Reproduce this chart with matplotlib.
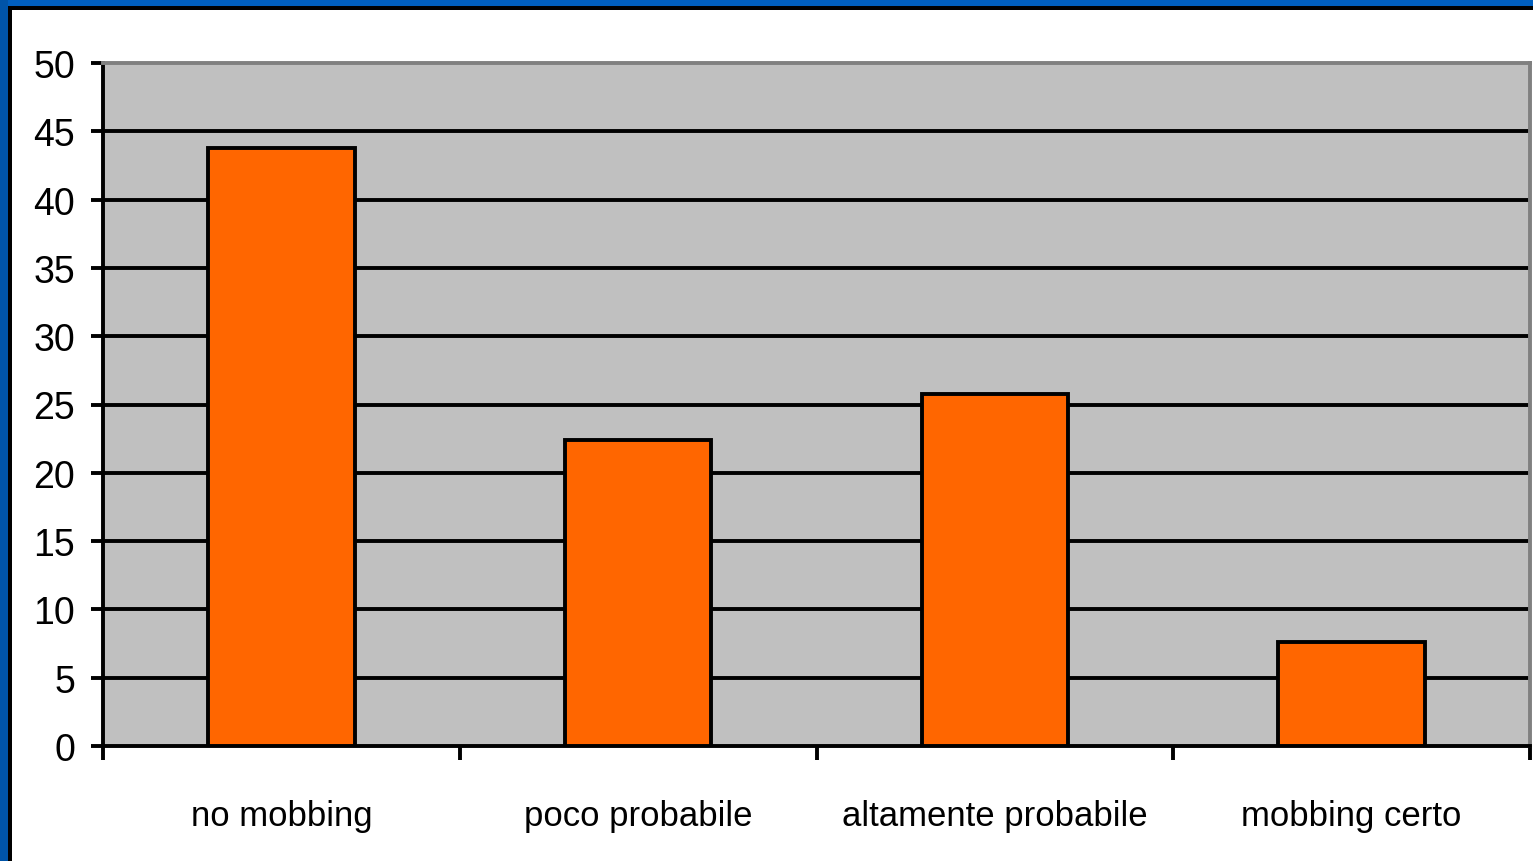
import matplotlib.pyplot as plt
from matplotlib.patches import Rectangle
import numpy as np

# categories and values
categories = ['no mobbing', 'poco probabile', 'altamente probabile', 'mobbing certo']
values = [43.8, 22.4, 25.8, 7.6]
y_ticks = [0, 5, 10, 15, 20, 25, 30, 35, 40, 45, 50]

plt.rcParams['font.family'] = ['Liberation Sans', 'DejaVu Sans']

fig = plt.figure(figsize=(15.33, 8.62), dpi=100)
fig.patch.set_facecolor('white')

W, H = 1533, 862
# blue window frame at top and left, with black inner line
fig.patches.append(Rectangle((0, 1 - 7 / H), 1, 7 / H, transform=fig.transFigure,
                             facecolor='#005FBF', edgecolor='none', zorder=0))
fig.patches.append(Rectangle((0, 0), 8 / W, 1, transform=fig.transFigure,
                             facecolor='#0054A8', edgecolor='none', zorder=0))
fig.patches.append(Rectangle((8 / W, 1 - 11 / H), 1, 4 / H, transform=fig.transFigure,
                             facecolor='black', edgecolor='none', zorder=0))
fig.patches.append(Rectangle((8 / W, 0), 4 / W, 1 - 7 / H, transform=fig.transFigure,
                             facecolor='black', edgecolor='none', zorder=0))

ax = fig.add_axes([103 / W, 1 - 747 / H, (1530 - 103) / W, (747 - 64) / H])
ax.set_facecolor('#C0C0C0')

x = np.arange(len(categories))
ax.bar(x, values, width=0.41, color='#FF6600', edgecolor='black', linewidth=2.8, zorder=3)

ax.set_xlim(-0.5, len(categories) - 0.5)
ax.set_ylim(0, 50)

ax.set_yticks(y_ticks)
ax.set_yticklabels([str(v) for v in y_ticks], fontsize=27)
for v in y_ticks[1:-1]:
    ax.axhline(v, color='black', linewidth=2.8, zorder=2)

# x ticks at category boundaries, labels at centres
ax.set_xticks(np.arange(-0.5, len(categories), 1.0))
ax.set_xticklabels([])
ax.set_xticks(x, minor=True)
ax.set_xticklabels(categories, minor=True, fontsize=25)
ax.tick_params(axis='x', which='minor', length=0, pad=38)
ax.tick_params(axis='x', which='major', length=10, width=2.8, color='black')
ax.tick_params(axis='y', length=9, width=2.8, pad=11)

for side in ['left', 'bottom']:
    ax.spines[side].set_color('black')
    ax.spines[side].set_linewidth(2.8)
for side in ['top', 'right']:
    ax.spines[side].set_color('#808080')
    ax.spines[side].set_linewidth(2.8)

fig.savefig('out.png', dpi=100)
